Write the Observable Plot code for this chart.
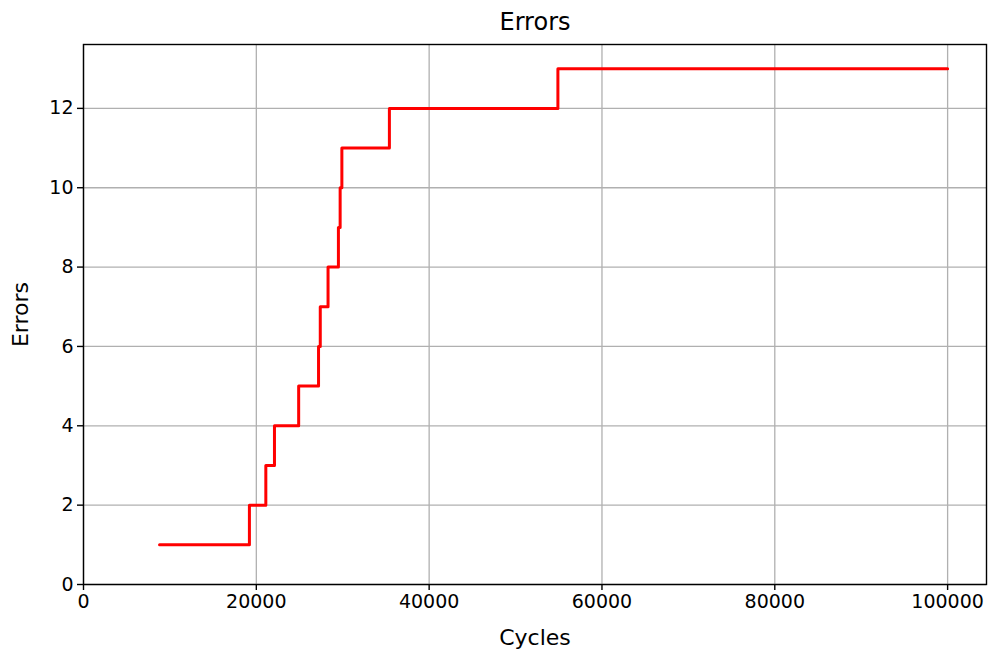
<!DOCTYPE html>
<html>
<head>
<meta charset="utf-8">
<script src="https://cdn.jsdelivr.net/npm/d3@7"></script>
<script src="https://cdn.jsdelivr.net/npm/@observablehq/plot@0.6"></script>
<style>
  html, body { margin: 0; padding: 0; background: #fff; }
  #chart svg { display: block; }
</style>
</head>
<body>
<div id="chart"></div>
<script>
const cycles = [8800, 19200, 21100, 22100, 24900, 27200, 27400, 28300, 29500, 29700, 29900, 35400, 54900, 100000];
const errors = [1, 2, 3, 4, 5, 6, 7, 8, 9, 10, 11, 12, 13, 13];
const xTicks = [0, 20000, 40000, 60000, 80000, 100000];
const yTicks = [0, 2, 4, 6, 8, 10, 12];
const titleText = "Errors";
const xLabel = "Cycles";
const yLabel = "Errors";

const data = cycles.map((c, i) => ({cycles: c, errors: errors[i]}));

const chart = Plot.plot({
  width: 989,
  height: 653,
  marginLeft: 83,
  marginRight: 3,
  marginTop: 44,
  marginBottom: 69,
  style: {fontFamily: "DejaVu Sans", fontSize: "19px", color: "#000", background: "#fff"},
  x: {domain: [0, 104500]},
  y: {domain: [0, 13.61]},
  marks: [
    Plot.gridX(xTicks, {stroke: "#b0b0b0", strokeOpacity: 1, strokeWidth: 1.3}),
    Plot.gridY(yTicks, {stroke: "#b0b0b0", strokeOpacity: 1, strokeWidth: 1.3}),
    Plot.line(data, {x: "cycles", y: "errors", curve: "step-after", stroke: "red", strokeWidth: 3}),
    Plot.frame({stroke: "#000", strokeWidth: 1.4}),
    Plot.axisX(xTicks, {tickSize: 6, tickPadding: 4, strokeWidth: 1.4, tickFormat: d => String(d), label: null, fontSize: 19}),
    Plot.axisY(yTicks, {tickSize: 6, tickPadding: 4, strokeWidth: 1.4, tickFormat: d => String(d), label: null, fontSize: 19}),
    Plot.text([titleText], {frameAnchor: "top", dy: -22, lineAnchor: "middle", textAnchor: "middle", text: d => d, fontSize: 24, fill: "#000"}),
    Plot.text([xLabel], {frameAnchor: "bottom", dy: 53, lineAnchor: "middle", textAnchor: "middle", text: d => d, fontSize: 22, fill: "#000"}),
    Plot.text([yLabel], {frameAnchor: "left", dx: -63, rotate: -90, lineAnchor: "middle", textAnchor: "middle", text: d => d, fontSize: 22, fill: "#000"})
  ]
});
document.getElementById("chart").appendChild(chart);
</script>
</body>
</html>
